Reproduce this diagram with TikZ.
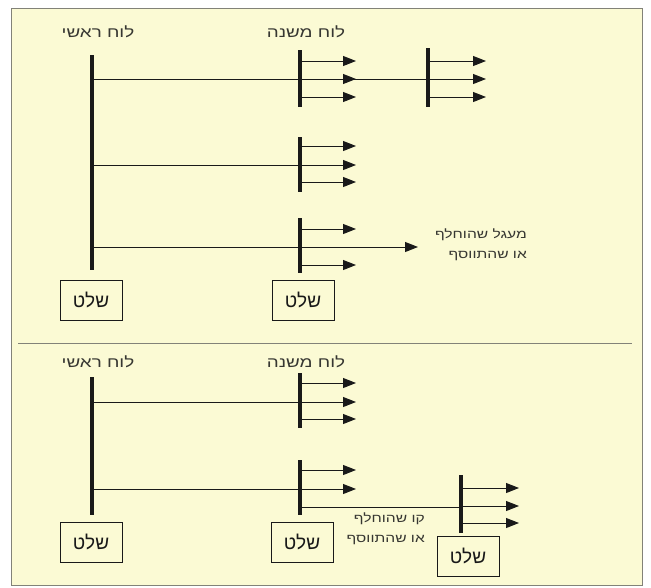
\documentclass[tikz,border=0pt]{standalone}
\usepackage{fontspec}
\usetikzlibrary{arrows.meta}
\TeXXeTstate=1
\newfontfamily\heb[Script=Hebrew]{Liberation Sans}
\newfontfamily\hebw[Script=Hebrew,FakeStretch=1.3]{Liberation Sans}
\definecolor{bg}{RGB}{251,250,212}
\definecolor{frame}{RGB}{130,130,120}
\definecolor{ink}{RGB}{25,25,25}
\definecolor{txt}{RGB}{55,55,50}
\begin{document}
\begin{tikzpicture}[x=1pt,y=-1pt,
  bus/.style={ink,line width=3.4pt},
  feed/.style={ink,line width=1pt},
  outarr/.style={ink,line width=1pt,-{Triangle[length=13pt,width=10pt]}},
  lbl/.style={font=\hebw\fontsize{14.5}{16}\selectfont,text=txt,inner sep=0pt},
  sign/.style={draw=ink,line width=0.8pt,minimum width=62pt,minimum height=40pt,inner sep=0pt,font=\heb\fontsize{19}{21}\selectfont,text=ink},
  note/.style={font=\hebw\fontsize{12}{20}\selectfont,text=txt,align=right,inner sep=0pt,anchor=east}]
\useasboundingbox (0,0) rectangle (651,587);
\draw[fill=bg,draw=frame,line width=0.8pt] (11,8) rectangle (642,585);
\coordinate (dl) at (18,343); \coordinate (dr) at (632,343);
\draw[frame,line width=1pt] (dl) -- (dr);

% ---------- top panel ----------
\node[lbl] (mainA) at (98,32) {\beginR לוח ראשי\endR};
\node[lbl] (subA) at (306,32) {\beginR לוח משנה\endR};
\coordinate (mAt) at (92,55); \coordinate (mAb) at (92,270);
\draw[bus] (mAt) -- (mAb);
\coordinate (s1t) at (300,50);  \coordinate (s1b) at (300,107);
\coordinate (s2t) at (300,137); \coordinate (s2b) at (300,192);
\coordinate (s3t) at (300,218); \coordinate (s3b) at (300,273);
\coordinate (t1t) at (428,48);  \coordinate (t1b) at (428,107);
\draw[bus] (s1t) -- (s1b);
\draw[bus] (s2t) -- (s2b);
\draw[bus] (s3t) -- (s3b);
\draw[bus] (t1t) -- (t1b);
\coordinate (fA1) at (92,79);  \coordinate (gA1) at (428,79);
\coordinate (fA2) at (92,165); \coordinate (gA2) at (300,165);
\coordinate (fA3) at (92,247); \coordinate (gA3) at (300,247);
\draw[feed] (fA1) -- (gA1);
\draw[feed] (fA2) -- (gA2);
\draw[feed] (fA3) -- (gA3);
\foreach \y in {61,79,97,146,165,182,229,265}{
  \coordinate (pa\y) at (300,\y); \coordinate (qa\y) at (356,\y);
  \draw[outarr] (pa\y) -- (qa\y);
}
\coordinate (qlong) at (418,247);
\draw[outarr] (gA3) -- (qlong);
\foreach \y in {61,79,97}{
  \coordinate (ra\y) at (428,\y); \coordinate (ua\y) at (486,\y);
  \draw[outarr] (ra\y) -- (ua\y);
}
\node[note] (noteA) at (527,245) {\beginR מעגל שהוחלף\endR\\\beginR או שהתווסף\endR};
\node[sign] (signA1) at (91,300) {\beginR שלט\endR};
\node[sign] (signA2) at (303,300) {\beginR שלט\endR};

% ---------- bottom panel ----------
\node[lbl] (mainB) at (98,362) {\beginR לוח ראשי\endR};
\node[lbl] (subB) at (306,362) {\beginR לוח משנה\endR};
\coordinate (mBt) at (92,377); \coordinate (mBb) at (92,515);
\draw[bus] (mBt) -- (mBb);
\coordinate (v1t) at (300,373); \coordinate (v1b) at (300,428);
\coordinate (v2t) at (300,460); \coordinate (v2b) at (300,515);
\coordinate (w1t) at (461,475); \coordinate (w1b) at (461,533);
\draw[bus] (v1t) -- (v1b);
\draw[bus] (v2t) -- (v2b);
\draw[bus] (w1t) -- (w1b);
\coordinate (fB1) at (92,402); \coordinate (gB1) at (300,402);
\coordinate (fB2) at (92,489); \coordinate (gB2) at (300,489);
\coordinate (fB3) at (300,507); \coordinate (gB3) at (461,507);
\draw[feed] (fB1) -- (gB1);
\draw[feed] (fB2) -- (gB2);
\draw[feed] (fB3) -- (gB3);
\foreach \y in {383,402,419,470,489}{
  \coordinate (pb\y) at (300,\y); \coordinate (qb\y) at (356,\y);
  \draw[outarr] (pb\y) -- (qb\y);
}
\foreach \y in {488,506,523}{
  \coordinate (rb\y) at (461,\y); \coordinate (ub\y) at (519,\y);
  \draw[outarr] (rb\y) -- (ub\y);
}
\node[note] (noteB) at (425,529) {\beginR קו שהוחלף\endR\\\beginR או שהתווסף\endR};
\node[sign] (signB1) at (91,542) {\beginR שלט\endR};
\node[sign] (signB2) at (302,542) {\beginR שלט\endR};
\node[sign] (signB3) at (468,556) {\beginR שלט\endR};
\end{tikzpicture}
\end{document}
